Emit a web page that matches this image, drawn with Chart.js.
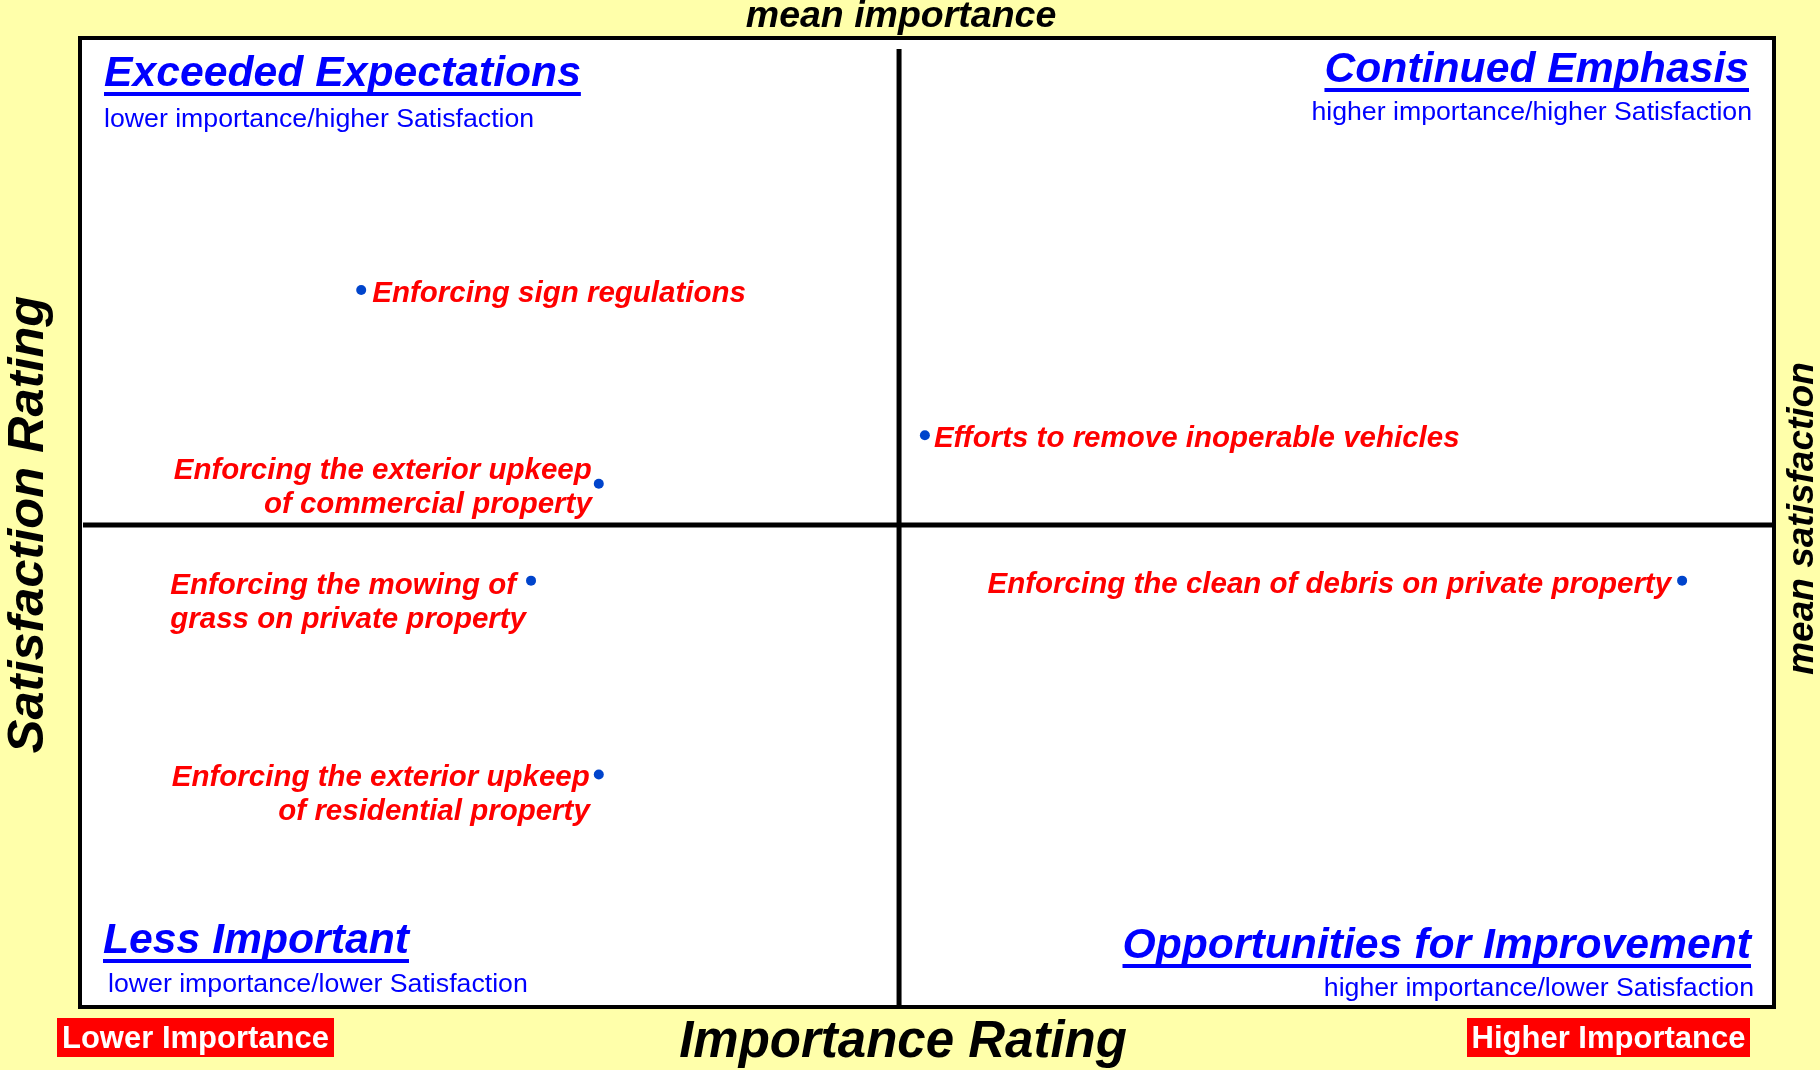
<!DOCTYPE html>
<html>
<head>
<meta charset="utf-8">
<script src="https://cdn.jsdelivr.net/npm/chart.js@4/dist/chart.umd.min.js"></script>
<style>
  html, body { margin: 0; padding: 0; background: #FFFFAA; }
  #wrap { width: 1820px; height: 1070px; }
</style>
</head>
<body>
<div id="wrap"><canvas id="c" width="1820" height="1070"></canvas></div>
<script>
// ---------- data ----------
const categories = [
  "Enforcing sign regulations",
  "Enforcing the exterior upkeep of commercial property",
  "Efforts to remove inoperable vehicles",
  "Enforcing the mowing of grass on private property",
  "Enforcing the clean of debris on private property",
  "Enforcing the exterior upkeep of residential property"
];
const labelLines = [
  ["Enforcing sign regulations"],
  ["Enforcing the exterior upkeep", "of commercial property"],
  ["Efforts to remove inoperable vehicles"],
  ["Enforcing the mowing of ", "grass on private property"],
  ["Enforcing the clean of debris on private property"],
  ["Enforcing the exterior upkeep", "of residential property"]
];
const importance   = [6.64, 12.25, 19.95, 10.65, 37.83, 12.25];
const satisfaction = [67.0, 57.0, 59.5, 52.0, 52.0, 42.0];
const meanImportance = 19.34;
const meanSatisfaction = 54.87;
const xRange = [0, 40];
const yRange = [30, 80];

const quadrantTitles = ["Exceeded Expectations", "Continued Emphasis", "Less Important", "Opportunities for Improvement"];
const quadrantSubtitles = [
  "lower importance/higher Satisfaction",
  "higher importance/higher Satisfaction",
  "lower importance/lower Satisfaction",
  "higher importance/lower Satisfaction"
];
const axisTitles = { x: "Importance Rating", y: "Satisfaction Rating", meanX: "mean importance", meanY: "mean satisfaction" };
const endTags = ["Lower Importance", "Higher Importance"];

// ---------- label placement (style) ----------
const placement = [
  { side: "right", dx: 11, dy: [4] },
  { side: "left",  dx: 7,  dy: [-13, 21] },
  { side: "right", dx: 9,  dy: [4] },
  { side: "block", dx: 5,  dy: [5, 39] },
  { side: "left",  dx: 11, dy: [4] },
  { side: "left",  dx: 9,  dy: [3, 37] }
];

const FF = '"Liberation Sans", Arial, Helvetica, sans-serif';
const BLUE = "#0000FF";
const RED = "#FF0000";

const points = importance.map((v, i) => ({ x: v, y: satisfaction[i] }));

const decor = {
  id: "decor",
  beforeDraw(chart) {
    const ctx = chart.ctx, a = chart.chartArea;
    ctx.save();
    ctx.fillStyle = "#FFFFAA";
    ctx.fillRect(0, 0, chart.width, chart.height);
    ctx.fillStyle = "#FFFFFF";
    ctx.fillRect(a.left, a.top, a.right - a.left, a.bottom - a.top);
    ctx.restore();
  },
  beforeDatasetsDraw(chart) {
    const ctx = chart.ctx, a = chart.chartArea;
    const xs = chart.scales.x, ys = chart.scales.y;
    const mx = xs.getPixelForValue(meanImportance);
    const my = ys.getPixelForValue(meanSatisfaction);
    ctx.save();
    ctx.strokeStyle = "#000";
    ctx.lineWidth = 5;
    ctx.beginPath();
    ctx.moveTo(mx, a.top + 11); ctx.lineTo(mx, a.bottom);
    ctx.moveTo(a.left + 3, my); ctx.lineTo(a.right, my);
    ctx.stroke();

    // quadrant titles
    const title = (txt, x, y, align) => {
      ctx.font = "bold italic 42.7px " + FF;
      ctx.fillStyle = BLUE;
      ctx.textAlign = align;
      ctx.textBaseline = "alphabetic";
      ctx.fillText(txt, x, y);
      const w = ctx.measureText(txt).width;
      const x0 = align === "left" ? x : x - w;
      ctx.fillRect(x0, y + 6, w, 4);
    };
    const sub = (txt, x, y, align) => {
      ctx.font = "26.7px " + FF;
      ctx.fillStyle = BLUE;
      ctx.textAlign = align;
      ctx.textBaseline = "alphabetic";
      ctx.fillText(txt, x, y);
    };
    title(quadrantTitles[0], a.left + 24, 86, "left");
    sub(quadrantSubtitles[0], a.left + 24, 127, "left");
    title(quadrantTitles[1], a.right - 25, 82, "right");
    sub(quadrantSubtitles[1], a.right - 22, 120, "right");
    title(quadrantTitles[2], a.left + 23, 953, "left");
    sub(quadrantSubtitles[2], a.left + 28, 992, "left");
    title(quadrantTitles[3], a.right - 23, 958, "right");
    sub(quadrantSubtitles[3], a.right - 20, 996, "right");
    ctx.restore();
  },
  afterDatasetsDraw(chart) {
    const ctx = chart.ctx, a = chart.chartArea;
    const mx = chart.scales.x.getPixelForValue(meanImportance);
    const meta = chart.getDatasetMeta(0);
    ctx.save();
    ctx.font = "bold italic 29.5px " + FF;
    ctx.fillStyle = RED;
    ctx.textBaseline = "middle";
    meta.data.forEach((el, i) => {
      const p = placement[i], lines = labelLines[i];
      if (p.side === "right") {
        ctx.textAlign = "left";
        lines.forEach((t, k) => ctx.fillText(t, el.x + p.dx, el.y + p.dy[k]));
      } else if (p.side === "left") {
        ctx.textAlign = "right";
        lines.forEach((t, k) => ctx.fillText(t, el.x - p.dx, el.y + p.dy[k]));
      } else {
        ctx.textAlign = "left";
        const w = Math.max(...lines.map(t => ctx.measureText(t).width));
        lines.forEach((t, k) => ctx.fillText(t, el.x - p.dx - w, el.y + p.dy[k]));
      }
    });

    // frame
    ctx.strokeStyle = "#000";
    ctx.lineWidth = 4;
    ctx.strokeRect(a.left, a.top, a.right - a.left, a.bottom - a.top);

    // axis titles
    ctx.fillStyle = "#000";
    ctx.textBaseline = "alphabetic";
    ctx.textAlign = "center";
    ctx.font = "bold italic 37.5px " + FF;
    ctx.fillText(axisTitles.meanX, mx + 2, 27);
    ctx.font = "bold italic 51px " + FF;
    ctx.fillText(axisTitles.x, mx + 4, 1057);

    ctx.save();
    ctx.translate(43, (a.top + a.bottom) / 2 + 2);
    ctx.rotate(-Math.PI / 2);
    ctx.font = "bold italic 50.5px " + FF;
    ctx.fillText(axisTitles.y, 0, 0);
    ctx.restore();

    ctx.save();
    ctx.translate(1813, (a.top + a.bottom) / 2 - 4);
    ctx.rotate(-Math.PI / 2);
    ctx.font = "bold italic 37px " + FF;
    ctx.fillText(axisTitles.meanY, 0, 0);
    ctx.restore();

    // end tags
    const tag = (txt, x0, x1) => {
      ctx.fillStyle = RED;
      ctx.fillRect(x0, 1018, x1 - x0, 39);
      ctx.fillStyle = "#FFFFFF";
      ctx.font = "bold 31px " + FF;
      ctx.textAlign = "center";
      ctx.textBaseline = "middle";
      ctx.fillText(txt, (x0 + x1) / 2, 1039);
    };
    tag(endTags[0], 57, 334);
    tag(endTags[1], 1467, 1750);
    ctx.restore();
  }
};

new Chart(document.getElementById("c"), {
  type: "scatter",
  data: {
    labels: categories,
    datasets: [{
      label: "Items",
      data: points,
      pointRadius: 5,
      pointHoverRadius: 5,
      pointBackgroundColor: "#0044CC",
      pointBorderWidth: 0,
      clip: false
    }]
  },
  options: {
    responsive: false,
    animation: false,
    devicePixelRatio: 1,
    layout: { padding: { left: 80, top: 38, right: 46, bottom: 63 } },
    plugins: { legend: { display: false }, tooltip: { enabled: false }, title: { display: false } },
    scales: {
      x: { type: "linear", min: xRange[0], max: xRange[1], display: false },
      y: { type: "linear", min: yRange[0], max: yRange[1], display: false }
    }
  },
  plugins: [decor]
});
</script>
</body>
</html>
